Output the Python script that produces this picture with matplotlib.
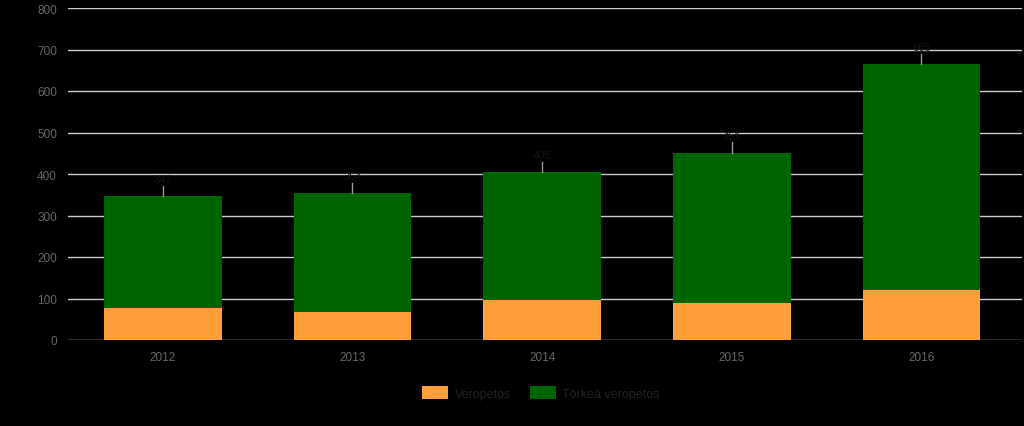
import matplotlib.pyplot as plt
import numpy as np

vuodet = ['2012', '2013', '2014', '2015', '2016']
veropetos = [77, 67, 96, 89, 120]
torkea_veropetos = [270, 287, 309, 362, 545]

plt.rcParams['font.family'] = ['Liberation Sans', 'DejaVu Sans']

fig = plt.figure(figsize=(10.24, 4.27), dpi=100, facecolor='black')
ax = fig.add_axes([68 / 1024, 1 - 341 / 427, 954 / 1024, 332 / 427])
ax.set_facecolor('black')

x = np.arange(len(vuodet))
leveys = 0.62
ax.bar(x, veropetos, leveys, color='#ff9f3a', label='Veropetos', zorder=3)
ax.bar(x, torkea_veropetos, leveys, bottom=veropetos, color='#006400',
       label='Törkeä veropetos', zorder=3)

# summat palkkien päälle
summat = [a + b for a, b in zip(veropetos, torkea_veropetos)]
for xi, s in zip(x, summat):
    ax.plot([xi, xi], [s, s + 25], color='#999999', lw=1, zorder=3)
    ax.text(xi, s + 29, str(s), ha='center', va='bottom', color='#151515', fontsize=8)

ax.set_xlim(-0.5, 4.53)
ax.set_ylim(0, 800)
ax.set_yticks(range(0, 801, 100))
ax.set_xticks(x)
ax.set_xticklabels(vuodet)
ax.grid(axis='y', color='#cccccc', lw=1, zorder=0)
ax.tick_params(colors='#666666', labelsize=8.5, length=0, pad=8)
for s in ax.spines.values():
    s.set_visible(False)

fig.legend(loc='center', bbox_to_anchor=(541 / 1024, 1 - 394 / 427), ncol=2, frameon=False,
           fontsize=9, labelcolor='#222222', handlelength=2.1, handleheight=1.2,
           handletextpad=0.5, columnspacing=1.5)

plt.savefig('out.png', dpi=100, facecolor='black')
